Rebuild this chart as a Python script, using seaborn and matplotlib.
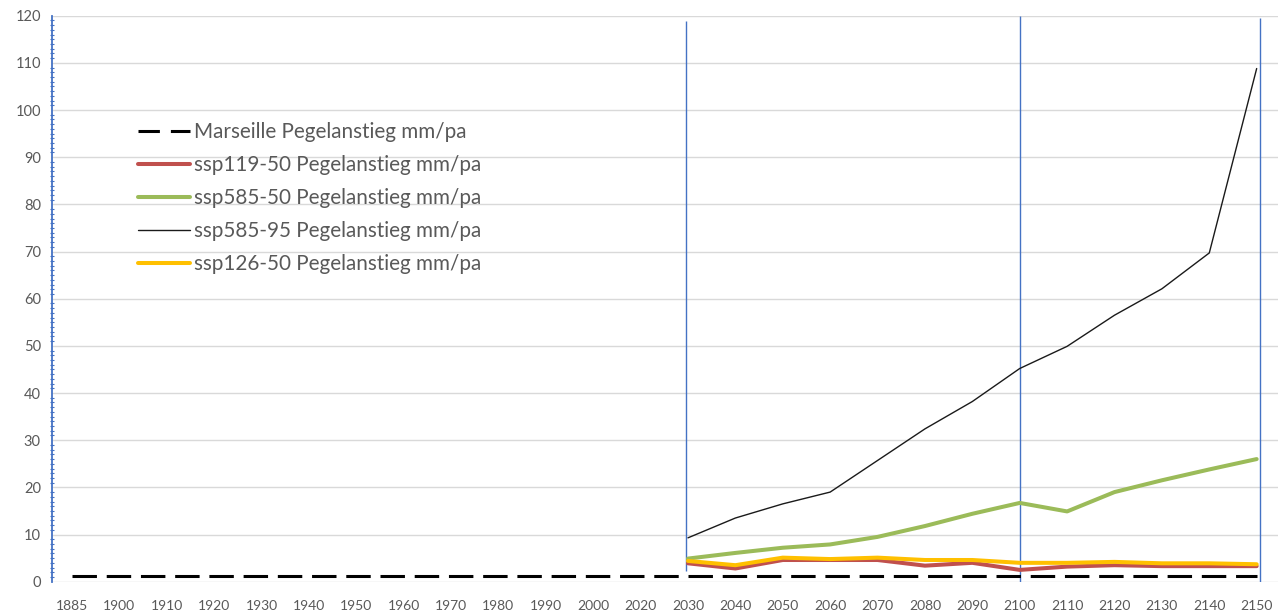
import numpy as np
import pandas as pd
import matplotlib
matplotlib.use("Agg")
import matplotlib.pyplot as plt
import seaborn as sns
from matplotlib.ticker import MultipleLocator

# Categories (years) on the horizontal axis
years = ["1885", "1900", "1910", "1920", "1930", "1940", "1950", "1960", "1970",
         "1980", "1990", "2000", "2020", "2030", "2040", "2050", "2060", "2070",
         "2080", "2090", "2100", "2110", "2120", "2130", "2140", "2150"]

# Sea level rise, mm per year
marseille = [1.3] * 26
proj_years = ["2030", "2040", "2050", "2060", "2070", "2080", "2090",
              "2100", "2110", "2120", "2130", "2140", "2150"]
ssp119_50 = [3.9, 2.8, 4.6, 4.6, 4.6, 3.4, 4.0, 2.5, 3.2, 3.5, 3.3, 3.3, 3.3]
ssp585_50 = [4.9, 6.1, 7.2, 7.9, 9.5, 11.8, 14.4, 16.7, 14.9, 19.0, 21.5, 23.8, 26.0]
ssp585_95 = [9.3, 13.5, 16.5, 19.0, 25.7, 32.4, 38.2, 45.2, 49.9, 56.5, 62.1, 69.7, 108.8]
ssp126_50 = [4.4, 3.5, 5.1, 4.8, 5.1, 4.6, 4.6, 4.0, 4.0, 4.2, 3.9, 3.9, 3.7]

# Marker years for vertical reference lines and their extents
ref_years = ["2030", "2100", "2150"]
ref_bottom = [2.2, 0.0, 0.0]
ref_top = [118.8, 120.0, 119.6]

labels = ["Marseille Pegelanstieg mm/pa", "ssp119-50 Pegelanstieg mm/pa",
          "ssp585-50 Pegelanstieg mm/pa", "ssp585-95 Pegelanstieg mm/pa",
          "ssp126-50 Pegelanstieg mm/pa"]

sns.set_theme(style="white")
plt.rcParams["font.family"] = ["Lato", "DejaVu Sans"]

grey_text = "#595959"
blue = "#4472C4"

pos = {y: i for i, y in enumerate(years)}
df_m = pd.DataFrame({"x": [pos[y] for y in years], "v": marseille})
proj_x = [pos[y] for y in proj_years]

fig = plt.figure(figsize=(12.82, 6.12), dpi=100)
ax = fig.add_axes([52 / 1282, 1 - 581.7 / 612, (1278 - 52) / 1282, (581.7 - 15.7) / 612])

sns.lineplot(data=df_m, x="x", y="v", ax=ax, color="black", lw=2.2,
             dashes=False, label=labels[0]).lines[-1].set_dashes([8, 3.2])
series = [(ssp119_50, "#C0504D", 2.9), (ssp585_50, "#9BBB59", 2.9),
          (ssp585_95, "#1a1a1a", 1.0), (ssp126_50, "#FFC000", 2.9)]
for (vals, col, lw), lab in zip(series, labels[1:]):
    sns.lineplot(x=proj_x, y=vals, ax=ax, color=col, lw=lw, label=lab)

# Vertical reference lines (hand-placed shapes, slightly off the category centres)
nudge = [-0.05, 0.0, 0.08]
for y, b, t, dx in zip(ref_years, ref_bottom, ref_top, nudge):
    ax.vlines(pos[y] + dx, b, t, color=blue, lw=1.0, zorder=1)

ax.set_xlim(-0.42, len(years) - 0.55)
ax.set_ylim(0, 120)
ax.set_xticks(range(len(years)))
ax.set_xticklabels(years)
ax.yaxis.set_major_locator(MultipleLocator(10))
ax.yaxis.set_minor_locator(MultipleLocator(1))
ax.grid(axis="y", color="#d9d9d9", lw=1.0)
ax.set_axisbelow(True)
ax.set_xlabel("")
ax.set_ylabel("")

for s in ["top", "right", "bottom"]:
    ax.spines[s].set_visible(False)
ax.spines["left"].set_color(blue)
ax.spines["left"].set_linewidth(1.3)

ax.tick_params(axis="x", length=0, pad=13, labelsize=10, labelcolor=grey_text)
ax.tick_params(axis="y", which="major", length=4, direction="inout", color=blue,
               pad=6, labelsize=10.5, labelcolor=grey_text)
ax.tick_params(axis="y", which="minor", length=3, direction="inout", color=blue, width=0.8)
ax.tick_params(axis="y", which="minor", left=True)

leg = ax.legend(loc="upper left", bbox_to_anchor=(138 / 1282, 1 - 122 / 612),
                bbox_transform=fig.transFigure, frameon=False, fontsize=14.9,
                handlelength=2.5, handletextpad=0.2, labelspacing=0.63,
                borderpad=0, borderaxespad=0)
for t in leg.get_texts():
    t.set_color(grey_text)
leg.get_lines()[0].set_dashes([7, 3.6])

fig.savefig("out.png", dpi=100, facecolor="white")
